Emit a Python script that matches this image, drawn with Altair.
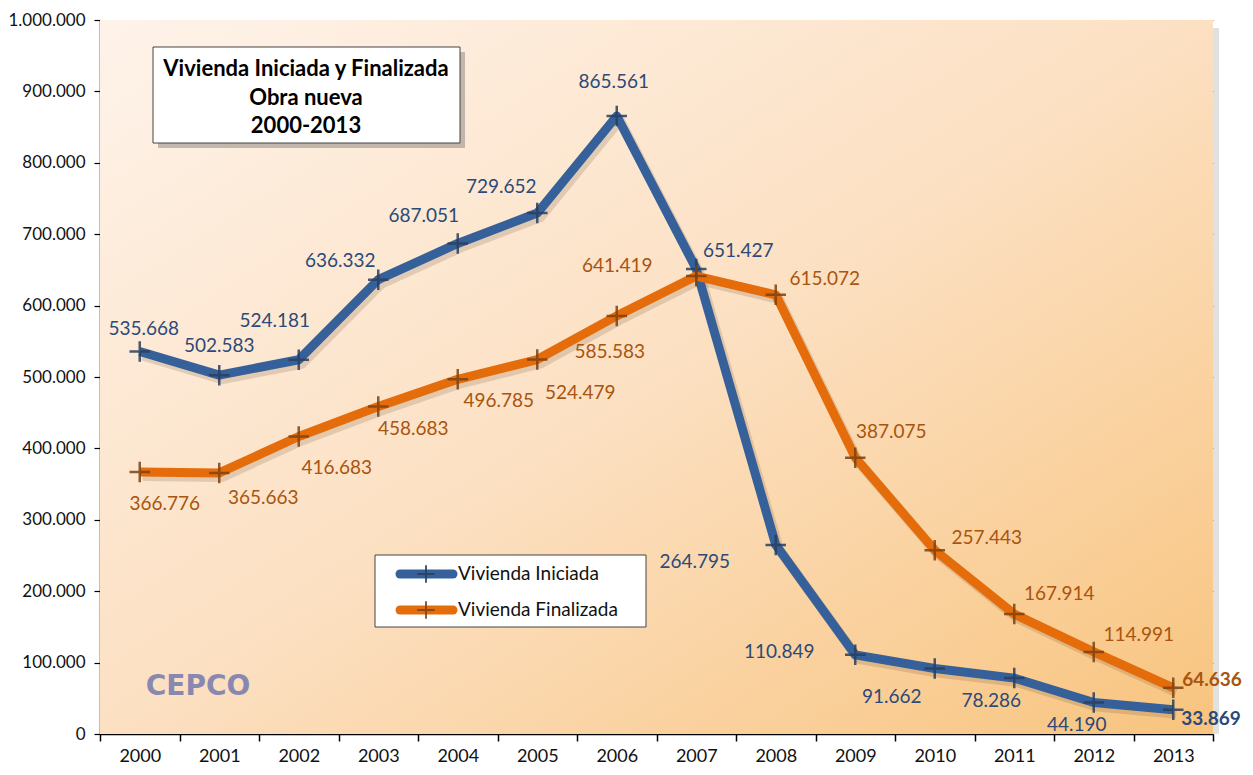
import altair as alt
import pandas as pd

years = [str(y) for y in range(2000, 2014)]
iniciada = [535668, 502583, 524181, 636332, 687051, 729652, 865561,
            651427, 264795, 110849, 91662, 78286, 44190, 33869]
finalizada = [366776, 365663, 416683, 458683, 496785, 524479, 585583,
              641419, 615072, 387075, 257443, 167914, 114991, 64636]
series_names = ["Vivienda Iniciada", "Vivienda Finalizada"]
y_ticks = list(range(0, 1000001, 100000))

rows = []
for i, y in enumerate(years):
    rows.append({"year": y, "series": series_names[0], "value": iniciada[i]})
    rows.append({"year": y, "series": series_names[1], "value": finalizada[i]})
df = pd.DataFrame(rows)

W, H = 1113, 714
BLUE, ORANGE = "#36609A", "#E46C0A"
BLUE_TXT, ORANGE_TXT = "#2B4A78", "#A9540F"
BLUE_MK, ORANGE_MK = "#2A3F5E", "#7E4210"
FONT = "Lato"

# label placement (style): (dx, dy, align, bold)
lab_ini = [(4, -23, "center", False), (0, -29, "center", False), (-24, -39, "center", False),
           (-38, -19, "center", False), (-34, -27, "center", False), (-36, -26, "center", False),
           (-3, -34, "center", False), (42, -18, "center", False), (-81, 17, "center", False),
           (-76, -3, "center", False), (-43, 28, "center", False), (-23, 23, "center", False),
           (-17, 23, "center", False), (8, 9, "left", True)]
lab_fin = [(25, 32, "center", False), (44, 25, "center", False), (38, 32, "center", False),
           (35, 22, "center", False), (41, 22, "center", False), (43, 33, "center", False),
           (-7, 36, "center", False), (-79, -10, "center", False), (49, -16, "center", False),
           (36, -26, "center", False), (52, -12, "center", False), (45, -20, "center", False),
           (45, -17, "center", False), (9, -8, "left", True)]

xenc = alt.X("year:O", title=None,
             scale=alt.Scale(paddingInner=0, paddingOuter=0),
             axis=alt.Axis(labelAngle=0, tickBand="extent", labelFont=FONT, labelFontSize=18,
                           labelColor="#111111", domainColor="#000000", domainWidth=1.5,
                           tickColor="#000000", tickWidth=1.5, tickSize=7, labelPadding=6,
                           grid=False))
yenc = alt.Y("value:Q", title=None,
             scale=alt.Scale(domain=[0, 1000000], nice=False),
             axis=alt.Axis(values=y_ticks,
                           labelExpr="replace(replace(format(datum.value, ','), ',', '.'), ',', '.')",
                           labelFont=FONT, labelFontSize=17, labelColor="#111111",
                           domainColor="#000000", domainWidth=1.5, tickColor="#000000",
                           tickWidth=1.2, tickSize=6, labelPadding=9,
                           grid=True, gridColor="#555555", gridDash=[3, 2], gridWidth=0.8))

one = pd.DataFrame({"a": [0]})

bg = alt.Chart(one).mark_rect(
    color=alt.LinearGradient(gradient="linear",
                             stops=[alt.GradientStop(color="#FEF3EA", offset=0),
                                    alt.GradientStop(color="#FCE0C2", offset=0.5),
                                    alt.GradientStop(color="#F8C47E", offset=1)],
                             x1=0, y1=0, x2=1, y2=1)
).encode(x=alt.value(0), x2=alt.value(W), y=alt.value(0), y2=alt.value(H))

right_shadow = alt.Chart(one).mark_rect(color="#888888", opacity=0.25).encode(
    x=alt.value(W), x2=alt.value(W + 6), y=alt.value(8), y2=alt.value(H))

base = alt.Chart(df)
color_scale = alt.Scale(domain=series_names, range=[BLUE, ORANGE])
mk_scale = alt.Scale(domain=series_names, range=[BLUE_MK, ORANGE_MK])

axes_layer = base.mark_line(opacity=0).encode(x=xenc, y=yenc, detail="series:N")

shadow = base.mark_line(strokeWidth=10, color="#6B4A2A", opacity=0.18, xOffset=3, yOffset=4,
                        strokeJoin="round").encode(
    x=alt.X("year:O"), y=alt.Y("value:Q"), detail="series:N")

lines = base.mark_line(strokeWidth=9, strokeJoin="round").encode(
    x=alt.X("year:O"), y=alt.Y("value:Q"),
    color=alt.Color("series:N", scale=color_scale, legend=None))

cross = "M-1,0L1,0M0,-1L0,1"
markers = base.mark_point(shape=cross, size=420, strokeWidth=2.5, filled=False, opacity=0.85).encode(
    x=alt.X("year:O"), y=alt.Y("value:Q"),
    stroke=alt.Stroke("series:N", scale=mk_scale, legend=None))

label_layers = []
for sname, labs, col in [(series_names[0], lab_ini, BLUE_TXT), (series_names[1], lab_fin, ORANGE_TXT)]:
    for i, y in enumerate(years):
        dx, dy, align, bold = labs[i]
        label_layers.append(
            base.transform_filter((alt.datum.series == sname) & (alt.datum.year == y))
            .transform_calculate(lbl="replace(format(datum.value, ','), ',', '.')")
            .mark_text(dx=dx, dy=dy, align=align, baseline="middle", font=FONT,
                       fontSize=19, fontWeight="bold" if bold else "normal",
                       color=col)
            .encode(x=alt.X("year:O"), y=alt.Y("value:Q"), text="lbl:N"))

# title box
tbox_sh = alt.Chart(one).mark_rect(color="#555555", opacity=0.35).encode(
    x=alt.value(58), x2=alt.value(365), y=alt.value(32), y2=alt.value(128))
tbox = alt.Chart(one).mark_rect(fill="white", stroke="#444444", strokeWidth=1).encode(
    x=alt.value(53), x2=alt.value(360), y=alt.value(27), y2=alt.value(123))
title_lines = ["Vivienda Iniciada y Finalizada", "Obra nueva", "2000-2013"]
title_txt = [alt.Chart(one).mark_text(text=t, font=FONT, fontSize=22, fontWeight="bold",
                                      color="#000000", align="center", baseline="middle")
             .encode(x=alt.value(206), y=alt.value(yy))
             for t, yy in zip(title_lines, [49, 78, 106])]

# legend box
lbox = alt.Chart(one).mark_rect(fill="white", stroke="#444444", strokeWidth=1).encode(
    x=alt.value(275), x2=alt.value(546), y=alt.value(535), y2=alt.value(607))
leg = [lbox]
for sname, col, mcol, ly in [(series_names[0], BLUE, BLUE_MK, 554), (series_names[1], ORANGE, ORANGE_MK, 590)]:
    leg.append(alt.Chart(one).mark_rule(color=col, strokeWidth=9, strokeCap="round").encode(
        x=alt.value(300), x2=alt.value(353), y=alt.value(ly)))
    leg.append(alt.Chart(one).mark_point(shape=cross, size=300, strokeWidth=2, filled=False,
                                         color=mcol, opacity=0.85).encode(
        x=alt.value(326), y=alt.value(ly)))
    leg.append(alt.Chart(one).mark_text(text=sname, font=FONT, fontSize=19, color="#111111",
                                        align="left", baseline="middle").encode(
        x=alt.value(358), y=alt.value(ly)))

logo = alt.Chart(one).mark_text(text="CEPCO", font="DejaVu Sans", fontSize=28, fontWeight="bold",
                                color="#7479AE", opacity=0.85, align="center",
                                baseline="middle").encode(x=alt.value(98), y=alt.value(667))

chart = alt.layer(
    bg, right_shadow, axes_layer, shadow, lines, markers, *label_layers,
    tbox_sh, tbox, *title_txt, *leg, logo
).properties(
    width=W, height=H,
    autosize=alt.AutoSizeParams(type="none"),
    padding={"left": 92, "top": 12, "right": 32, "bottom": 33},
).configure_view(stroke=None)

chart.save("out.html", embed_options={"renderer": "svg", "actions": False})
